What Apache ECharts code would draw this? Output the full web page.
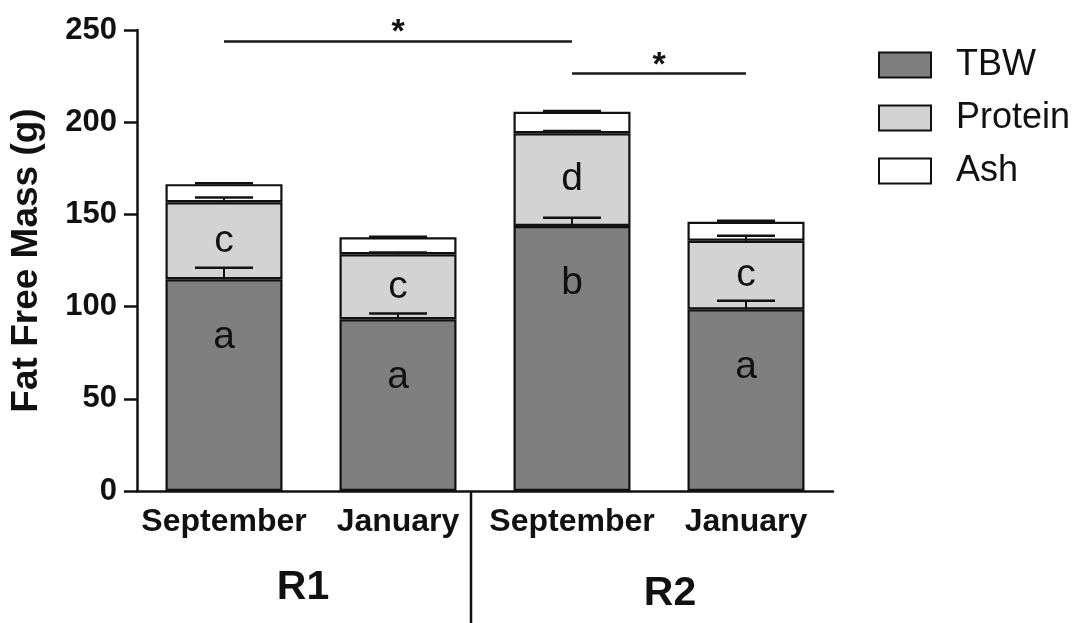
<!DOCTYPE html>
<html>
<head>
<meta charset="utf-8">
<script src="https://cdn.jsdelivr.net/npm/echarts@6/dist/echarts.min.js"></script>
<style>html,body{margin:0;padding:0;background:#fff}#c{width:1080px;height:623px}</style>
</head>
<body>
<div id="c"></div>
<script>
const categories = ['September', 'January', 'September', 'January'];
const groups = ['R1', 'R2'];
const tbw = [114.8, 93.1, 143.7, 98.5];
const protein = [41.8, 35.3, 50.3, 37.2];
const ash = [9.8, 9.2, 11.7, 10.3];
const tbwErr = [6.3, 3.1, 4.5, 4.7];
const proteinErr = [2.5, 1.0, 1.2, 2.7];
const ashErr = [0.5, 0.3, 0.4, 0.5];
const tbwLetters = ['a', 'a', 'b', 'a'];
const proteinLetters = ['c', 'c', 'd', 'c'];
const yTicks = [0, 50, 100, 150, 200, 250];
const sigPairs = [[0, 2, 244], [2, 3, 226.5]];

const FONT = '"Liberation Sans", Arial, Helvetica, sans-serif';
const chart = echarts.init(document.getElementById('c'));

const errData = [];
categories.forEach((c, i) => {
  errData.push([i, tbw[i], tbwErr[i]]);
  errData.push([i, tbw[i] + protein[i], proteinErr[i]]);
  errData.push([i, tbw[i] + protein[i] + ash[i], ashErr[i]]);
});

const barStyle = (color) => ({ color: color, borderColor: '#111', borderWidth: 2.2 });

const option = {
  animation: false,
  textStyle: { fontFamily: FONT },
  grid: { left: 135, right: 247, top: 30, bottom: 132, containLabel: false },
  legend: {
    orient: 'vertical', left: 873, top: 42,
    itemWidth: 52, itemHeight: 25, itemGap: 17,
    icon: 'rect',
    textStyle: { fontSize: 36, color: '#111', fontFamily: FONT, padding: [0, 0, 0, 20] },
    data: ['TBW', 'Protein', 'Ash']
  },
  xAxis: {
    type: 'category', data: categories,
    axisLine: { lineStyle: { color: '#111', width: 2.5 } },
    axisTick: { alignWithLabel: true, length: 14, lineStyle: { color: '#111', width: 2.5 } },
    axisLabel: { fontSize: 32, fontWeight: 'bold', color: '#111', margin: 15, interval: 0 }
  },
  yAxis: {
    type: 'value', min: 0, max: 250, interval: 50,
    name: 'Fat Free Mass (g)', nameLocation: 'middle', nameGap: 92,
    nameTextStyle: { fontSize: 37, fontWeight: 'bold', color: '#111' },
    axisLine: { show: true, lineStyle: { color: '#111', width: 2.5 } },
    axisTick: { show: true, length: 13, lineStyle: { color: '#111', width: 2.5 } },
    axisLabel: { fontSize: 31, fontWeight: 'bold', color: '#111', margin: 20,
      formatter: (v) => yTicks.includes(v) ? String(v) : '' },
    splitLine: { show: false }
  },
  series: [
    {
      name: 'TBW', type: 'bar', stack: 'ffm', barWidth: 117, data: tbw,
      itemStyle: barStyle('#7f7f7f'),
      label: { show: true, position: 'insideTop', distance: 38, fontSize: 39, color: '#111',
        formatter: (p) => tbwLetters[p.dataIndex] }
    },
    {
      name: 'Protein', type: 'bar', stack: 'ffm', barWidth: 117, data: protein,
      itemStyle: barStyle('#d3d3d3'),
      label: { show: true, position: 'inside', fontSize: 39, color: '#111',
        formatter: (p) => proteinLetters[p.dataIndex] }
    },
    {
      name: 'Ash', type: 'bar', stack: 'ffm', barWidth: 117, data: ash,
      itemStyle: barStyle('#ffffff'),
      markLine: {
        symbol: 'none', silent: true,
        lineStyle: { color: '#1a1a1a', width: 2.5, type: 'solid' },
        label: { show: true, position: 'middle', formatter: '*', fontSize: 34, fontWeight: 'bold', color: '#111', distance: -9 },
        data: sigPairs.map(p => [{ coord: [p[0], p[2]] }, { coord: [p[1], p[2]] }])
      }
    },
    {
      name: 'err', type: 'custom', data: errData, z: 10,
      renderItem: function (params, api) {
        const i = api.value(0), base = api.value(1), e = api.value(2);
        const p0 = api.coord([i, base]);
        const p1 = api.coord([i, base + e]);
        const hw = 29;
        return {
          type: 'group',
          children: [
            { type: 'line', shape: { x1: p0[0], y1: p0[1], x2: p1[0], y2: p1[1] }, style: { stroke: '#111', lineWidth: 2 } },
            { type: 'line', shape: { x1: p1[0] - hw, y1: p1[1], x2: p1[0] + hw, y2: p1[1] }, style: { stroke: '#111', lineWidth: 2.5 } }
          ]
        };
      }
    }
  ],
  graphic: [
    { type: 'line', shape: { x1: 471, y1: 492, x2: 471, y2: 623 }, style: { stroke: '#111', lineWidth: 2.5 } },
    { type: 'text', x: 303, y: 588, style: { text: groups[0], fontSize: 41, fontWeight: 'bold', fill: '#111', fontFamily: FONT, align: 'center', verticalAlign: 'middle' } },
    { type: 'text', x: 670, y: 594, style: { text: groups[1], fontSize: 41, fontWeight: 'bold', fill: '#111', fontFamily: FONT, align: 'center', verticalAlign: 'middle' } }
  ]
};
chart.setOption(option);
</script>
</body>
</html>
